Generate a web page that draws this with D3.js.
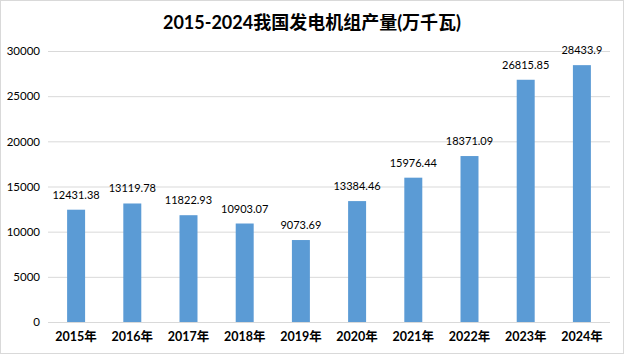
<!DOCTYPE html>
<html><head><meta charset="utf-8">
<script src="https://cdn.jsdelivr.net/npm/d3@7"></script>
<style>html,body{margin:0;padding:0;background:#fff;}svg{display:block;}</style>
</head><body>
<script>
const years = ["2015年","2016年","2017年","2018年","2019年","2020年","2021年","2022年","2023年","2024年"];
const values = [12431.38, 13119.78, 11822.93, 10903.07, 9073.69, 13384.46, 15976.44, 18371.09, 26815.85, 28433.9];
const labels = ["12431.38","13119.78","11822.93","10903.07","9073.69","13384.46","15976.44","18371.09","26815.85","28433.9"];
const yTicks = [0,5000,10000,15000,20000,25000,30000];
const title = "2015-2024我国发电机组产量(万千瓦)";

const W=626,H=356;
const font = "Lato, 'Noto Sans CJK SC', sans-serif";
const svg = d3.select("body").append("svg").attr("width",W).attr("height",H);
svg.append("rect").attr("x",0.5).attr("y",0.5).attr("width",W-3).attr("height",H-3)
  .attr("fill","#fff").attr("stroke","#d9d9d9");

const x = d3.scaleBand().domain(years).range([48,610]).paddingInner(0.68).paddingOuter(0.34);
const y = d3.scaleLinear().domain([0,30000]).range([322,51]);

svg.append("text").attr("x",312).attr("y",29).attr("text-anchor","middle")
  .attr("font-family",font).attr("font-weight","bold").attr("font-size",18).attr("fill","#000").text(title);

const gy = svg.append("g").attr("transform","translate(48,0)")
  .call(d3.axisLeft(y).tickValues(yTicks).tickSize(-562).tickPadding(8).tickFormat(d3.format("d")));
gy.select(".domain").remove();
gy.selectAll(".tick line").attr("stroke","#d9d9d9");
gy.selectAll(".tick text").attr("font-family",font).attr("font-size",11.5).attr("fill","#000").attr("x",-8);

const gx = svg.append("g").attr("transform","translate(0,322)")
  .call(d3.axisBottom(x).tickSize(0).tickPadding(10));
gx.select(".domain").attr("stroke","#d9d9d9").attr("d","M48,0.5H610");
gx.selectAll(".tick text").attr("font-family",font).attr("font-weight","bold").attr("font-size",12.5).attr("fill","#000");

svg.append("g").selectAll("rect").data(values).join("rect")
  .attr("x",(d,i)=>x(years[i])).attr("width",x.bandwidth())
  .attr("y",d=>y(d)).attr("height",d=>y(0)-y(d)).attr("fill","#5b9bd5");

svg.append("g").selectAll("text").data(values).join("text")
  .attr("x",(d,i)=>x(years[i])+x.bandwidth()/2).attr("y",d=>y(d)-11)
  .attr("text-anchor","middle").attr("font-family",font).attr("font-size",11).attr("fill","#000")
  .text((d,i)=>labels[i]);
</script>
</body></html>
